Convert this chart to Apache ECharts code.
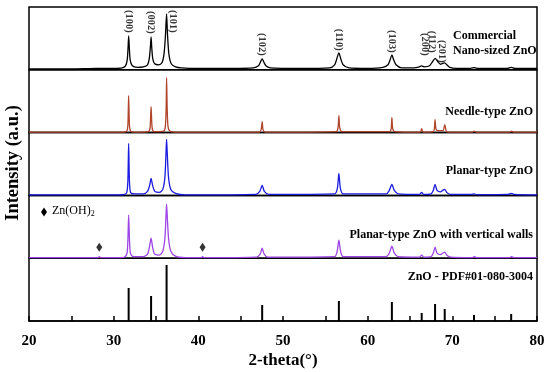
<!DOCTYPE html>
<html><head><meta charset="utf-8">
<script src="https://cdn.jsdelivr.net/npm/echarts@6/dist/echarts.min.js"></script>
<style>html,body{margin:0;padding:0;background:#fff}#c{width:550px;height:372px}</style>
</head><body><div id="c"></div>
<script>
// ---------- DATA (2-theta in degrees, intensity in arbitrary units) ----------
const commercial = [[20,1],[25,1],[28,1.5],[30,1.5],[31.0,2],[31.4,4],[31.6,10],[31.7,22],[31.77,34],[31.85,22],[31.95,10],[32.2,4],[32.8,2.5],[33.5,3],[34.0,5],[34.2,11],[34.33,22],[34.42,33],[34.5,22],[34.62,11],[34.85,6],[35.3,5],[35.7,7],[35.95,16],[36.12,35],[36.25,56],[36.36,35],[36.52,16],[36.8,6],[37.3,3],[38,2],[40,1.5],[44,1.5],[46.5,2],[47.1,4],[47.35,8],[47.54,11],[47.72,8],[47.98,4],[48.5,2],[52,1.5],[55.5,2],[56.1,5],[56.35,11],[56.6,17],[56.82,11],[57.1,5],[57.8,2],[60,1.5],[61.8,2.5],[62.4,5],[62.65,10],[62.86,15],[63.07,10],[63.35,5],[64,2],[65.5,2],[66.1,3],[66.38,4],[66.7,3],[67.3,4],[67.65,8],[67.96,11.5],[68.3,8],[68.6,5.5],[68.85,6.5],[69.1,7],[69.35,5],[69.7,2.5],[70.5,1.5],[72.2,1.5],[72.56,2.2],[72.9,1.5],[76.5,1.5],[76.95,2.5],[77.4,1.5],[80,1.5]];
const needle = [[20,0.5],[31.0,0.5],[31.55,1.5],[31.68,8],[31.77,37],[31.86,8],[32.0,1.5],[32.5,0.5],[34.1,1],[34.3,5],[34.42,26],[34.54,5],[34.75,1],[35.9,1.5],[36.1,6],[36.2,25],[36.25,55],[36.32,25],[36.42,6],[36.65,1.5],[37.5,0.5],[47.2,0.5],[47.42,3],[47.54,11],[47.64,3],[47.9,0.5],[56.3,1],[56.5,5],[56.6,17],[56.7,5],[56.95,1],[62.6,1],[62.78,4],[62.86,15],[62.96,4],[63.2,1],[66.2,0.5],[66.38,4],[66.55,0.5],[67.75,1],[67.88,4],[67.96,13],[68.06,4],[68.25,2],[68.9,2],[69.1,8],[69.3,1],[69.6,0.5],[72.4,0.5],[72.56,1.5],[72.8,0.5],[76.8,0.5],[76.95,1.5],[77.3,0.5],[80,0.5]];
const planar = [[20,0.5],[30.5,0.5],[31.3,1],[31.55,3],[31.68,15],[31.77,52],[31.86,15],[32.0,3],[32.5,1.5],[33.5,1.5],[34.0,4],[34.25,10],[34.42,17],[34.6,10],[34.85,4],[35.4,3],[35.8,6],[36.05,18],[36.18,42],[36.25,56],[36.33,42],[36.48,18],[36.75,6],[37.3,2],[38.5,0.5],[46.8,1],[47.25,4],[47.54,10],[47.8,4],[48.3,1],[56.1,1.5],[56.42,7],[56.6,22],[56.78,7],[57.1,1.5],[62.2,1.5],[62.55,5],[62.86,11],[63.15,5],[63.6,1.5],[66.1,1],[66.38,3],[66.65,1],[67.5,1.5],[67.75,5],[67.96,11],[68.2,5],[68.6,3.5],[68.85,5],[69.1,6],[69.35,3],[69.8,1],[72.2,1],[72.56,1.5],[72.9,0.8],[76.6,1],[76.95,2],[77.3,1],[80,0.5]];
const walls = [[20,0.5],[28.1,0.5],[28.3,1.5],[28.5,0.5],[30.8,0.5],[31.35,1.5],[31.58,5],[31.68,18],[31.77,43],[31.87,18],[31.98,5],[32.3,1.5],[33.5,1.5],[34.0,4],[34.22,11],[34.42,20],[34.6,11],[34.85,4],[35.4,3],[35.8,7],[36.05,20],[36.18,42],[36.25,54],[36.33,42],[36.48,20],[36.75,7],[37.3,2],[38.5,0.5],[40.3,0.5],[40.5,1.5],[40.7,0.5],[46.9,1],[47.3,4],[47.54,10],[47.78,4],[48.2,1],[56.1,1.5],[56.4,7],[56.6,18],[56.8,7],[57.1,1.5],[62.2,1.5],[62.55,5],[62.86,12],[63.15,5],[63.6,1.5],[66.1,1],[66.38,3],[66.65,1],[67.5,1.5],[67.75,5],[67.96,11],[68.2,5],[68.6,3.5],[68.85,5],[69.1,6],[69.35,3],[69.8,1],[72.4,0.5],[72.56,1.5],[72.9,0.5],[76.8,0.5],[76.95,1.5],[77.3,0.5],[80,0.5]];
const znOH2 = [[28.3,11],[40.5,11]];
const pdfPos = [31.77,34.42,36.25,47.54,56.6,62.86,66.38,67.96,69.1,72.56,76.95];
const pdfInt = [33,25,56,16,20,19,8,17,12,6,7];
const hklNames = ['(100)','(002)','(101)','(102)','(110)','(103)','(200)','(112)','(201)'];
const hklX     = [31.77,34.42,37.0,47.54,56.6,62.86,66.7,67.55,68.8];
const hklY     = [37,36,37,14,19,17,14,17,7];
const sampleNames = ['Needle-type ZnO','Planar-type ZnO','Planar-type ZnO with vertical walls','ZnO - PDF#01-080-3004'];
const xTicks = [20,30,40,50,60,70,80];

// ---------- CHART ----------
const FONT = '"Liberation Serif","Times New Roman",serif';
const chart = echarts.init(document.getElementById('c'));
const G = 5, TOP = 7, BOTTOM = 321, H = (BOTTOM - TOP) / G;
const grids = [], xAxes = [], yAxes = [];
for (let i = 0; i < G; i++) {
  grids.push({left: 29, right: 13, top: TOP + i * H, height: H, show: true,
    borderColor: '#000', borderWidth: 1.5, backgroundColor: 'transparent'});
  const last = i === G - 1;
  xAxes.push({gridIndex: i, type: 'value', min: xTicks[0], max: xTicks[xTicks.length-1], interval: 10,
    axisLine: {show: last, lineStyle: {color: '#000', width: 1.5}},
    axisTick: {show: last, inside: true, length: 5, lineStyle: {color: '#000', width: 1.5}},
    minorTick: {show: last, splitNumber: 2, length: 5, lineStyle: {color: '#000', width: 1.5}},
    axisLabel: {show: last, margin: 13, color: '#000', fontFamily: FONT, fontWeight: 'bold', fontSize: 15},
    splitLine: {show: false}});
  yAxes.push({gridIndex: i, type: 'value', min: 0, max: H, show: false});
}
const lineS = (data, idx, color) => ({type: 'line', xAxisIndex: idx, yAxisIndex: idx, data,
  showSymbol: false, symbol: 'none', smooth: 0.25, lineStyle: {color, width: 1.3}, silent: true, animation: false});

chart.setOption({
  animation: false,
  grid: grids, xAxis: xAxes, yAxis: yAxes,
  series: [
    lineS(commercial, 0, '#000000'),
    {type: 'scatter', xAxisIndex: 0, yAxisIndex: 0, symbolSize: 0,
      data: hklNames.map((n, i) => ({name: n, value: [hklX[i], hklY[i]]})),
      label: {show: true, formatter: '{b}', position: 'top', distance: 0, rotate: -90,
        align: 'right', verticalAlign: 'middle', color: '#000', fontFamily: FONT, fontSize: 10.5, fontWeight: 'bold'}},
    lineS(needle, 1, '#b0452c'),
    lineS(planar, 2, '#1c1ce0'),
    lineS(walls, 3, '#9d45e6'),
    {type: 'scatter', xAxisIndex: 3, yAxisIndex: 3, symbol: 'diamond', symbolSize: [6, 9],
      itemStyle: {color: '#000'}, data: znOH2},
    {type: 'bar', xAxisIndex: 4, yAxisIndex: 4, barWidth: 2, itemStyle: {color: '#000'},
      data: pdfPos.map((p, i) => [p, pdfInt[i]])}
  ],
  graphic: [
    {type: 'text', left: 453, top: 28, style: {text: 'Commercial\nNano-sized ZnO', font: 'bold 12px ' + FONT, fill: '#000', lineHeight: 15}},
    {type: 'text', right: 17, top: 106, style: {text: sampleNames[0], font: 'bold 12px ' + FONT, fill: '#000'}},
    {type: 'text', right: 17, top: 165, style: {text: sampleNames[1], font: 'bold 12px ' + FONT, fill: '#000'}},
    {type: 'text', right: 17, top: 229, style: {text: sampleNames[2], font: 'bold 12px ' + FONT, fill: '#000'}},
    {type: 'text', right: 17, top: 271, style: {text: sampleNames[3], font: 'bold 12px ' + FONT, fill: '#000'}},
    {type: 'polygon', shape: {points: [[44, 207.5], [47, 212], [44, 216.5], [41, 212]]}, style: {fill: '#000'}},
    {type: 'text', left: 52, top: 205, style: {text: 'Zn(OH){s|2}', font: '12px ' + FONT, fill: '#000',
      rich: {s: {fontSize: 8, fontFamily: FONT, verticalAlign: 'bottom', padding: [6, 0, 0, 0]}}}},
    {type: 'text', x: 13, y: 163, rotation: Math.PI / 2,
      style: {text: 'Intensity (a.u.)', font: 'bold 18.5px ' + FONT, fill: '#000', align: 'center', verticalAlign: 'middle'}},
    {type: 'text', x: 283, y: 361,
      style: {text: '2-theta(°)', font: 'bold 17px ' + FONT, fill: '#000', align: 'center', verticalAlign: 'middle'}}
  ]
});
</script></body></html>
